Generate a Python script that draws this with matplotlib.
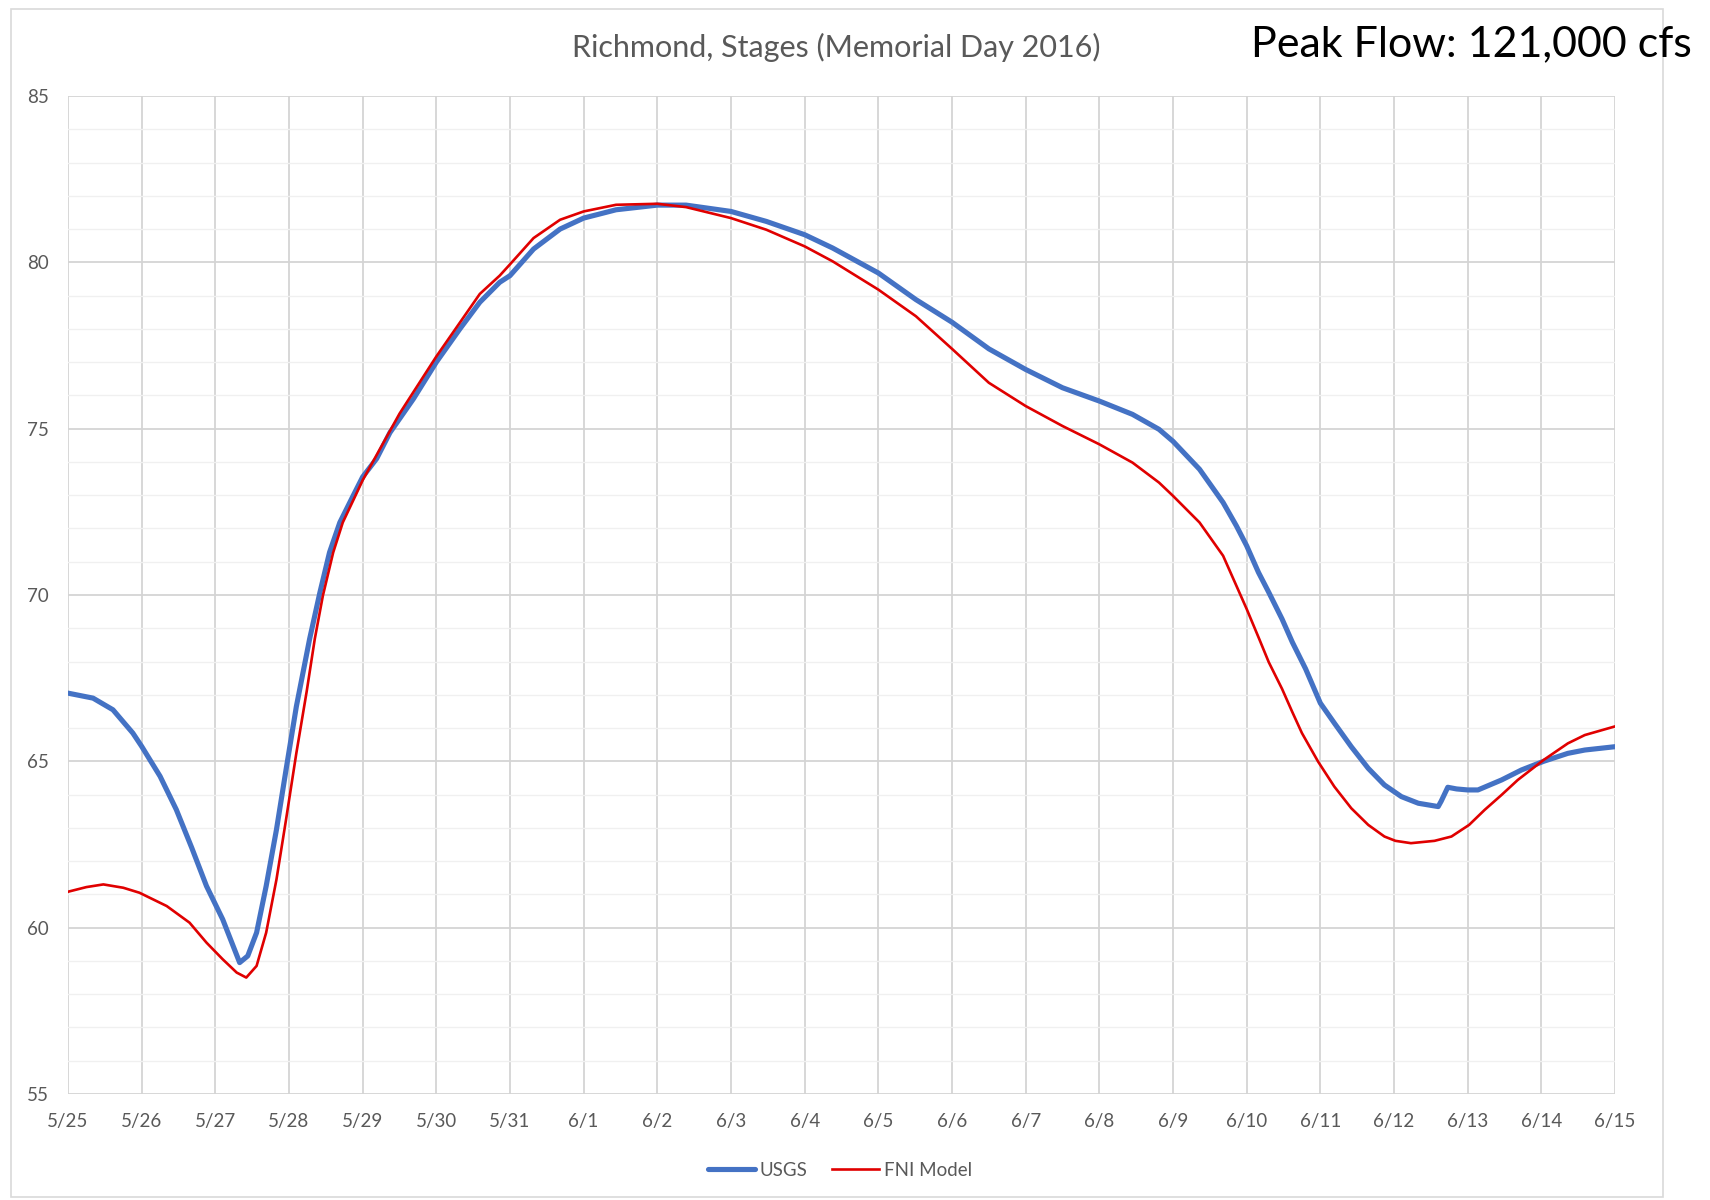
import matplotlib
matplotlib.use("Agg")
import matplotlib.pyplot as plt
from matplotlib.patches import Rectangle
from matplotlib.ticker import MultipleLocator

# ---- data (days after 5/25, stage in ft) ----
tick_labels = ["5/25", "5/26", "5/27", "5/28", "5/29", "5/30", "5/31", "6/1", "6/2", "6/3",
               "6/4", "6/5", "6/6", "6/7", "6/8", "6/9", "6/10", "6/11", "6/12", "6/13",
               "6/14", "6/15"]

usgs_day = [0, 0.34, 0.61, 0.88, 1.0, 1.25, 1.47, 1.68, 1.88, 2.1, 2.33, 2.44, 2.56, 2.69,
            2.83, 2.96, 3.1, 3.28, 3.42, 3.55, 3.69, 3.87, 4.0, 4.19, 4.37, 4.69, 5.0, 5.32,
            5.59, 5.86, 6.0, 6.32, 6.68, 7.0, 7.44, 8.0, 8.39, 9.0, 9.48, 10.0, 10.38, 11.0,
            11.51, 12.0, 12.5, 13.0, 13.5, 14.0, 14.45, 14.81, 15.0, 15.36, 15.68, 15.86,
            16.0, 16.16, 16.3, 16.48, 16.62, 16.8, 17.0, 17.19, 17.42, 17.65, 17.87, 18.1,
            18.33, 18.6, 18.64, 18.73, 18.85, 19.0, 19.14, 19.46, 19.73, 20.03, 20.36, 20.59,
            21.0]
usgs_stage = [67.05, 66.9, 66.55, 65.85, 65.45, 64.55, 63.55, 62.4, 61.25, 60.25, 58.95,
              59.15, 59.85, 61.25, 62.95, 64.75, 66.65, 68.68, 70.08, 71.28, 72.18, 72.98,
              73.55, 74.1, 74.88, 75.9, 77.0, 78.0, 78.8, 79.4, 79.6, 80.4, 81.0, 81.33,
              81.58, 81.72, 81.72, 81.53, 81.23, 80.83, 80.43, 79.68, 78.88, 78.2, 77.4,
              76.78, 76.23, 75.83, 75.43, 74.98, 74.62, 73.78, 72.78, 72.08, 71.48, 70.68,
              70.08, 69.28, 68.58, 67.78, 66.75, 66.15, 65.44, 64.79, 64.29, 63.94, 63.74,
              63.64, 63.8, 64.22, 64.17, 64.14, 64.14, 64.44, 64.74, 65.0, 65.24, 65.34,
              65.44]

fni_day = [0, 0.25, 0.48, 0.75, 0.97, 1.34, 1.65, 1.88, 2.1, 2.29, 2.42, 2.56, 2.69, 2.83,
           2.96, 3.1, 3.24, 3.35, 3.46, 3.6, 3.73, 3.89, 4.0, 4.5, 5.0, 5.59, 5.86, 6.0,
           6.32, 6.68, 7.0, 7.44, 8.0, 8.39, 9.0, 9.48, 10.0, 10.38, 11.0, 11.51, 12.0,
           12.5, 13.0, 13.5, 14.0, 14.45, 14.81, 15.0, 15.36, 15.68, 15.8, 16.0, 16.17,
           16.3, 16.48, 16.62, 16.75, 16.97, 17.19, 17.42, 17.65, 17.87, 18.02, 18.23,
           18.55, 18.78, 19.02, 19.23, 19.46, 19.68, 20.03, 20.36, 20.59, 21.0]
fni_stage = [61.08, 61.22, 61.3, 61.2, 61.05, 60.65, 60.15, 59.55, 59.05, 58.65, 58.5,
             58.85, 59.85, 61.45, 63.25, 65.25, 67.1, 68.68, 69.98, 71.28, 72.18, 72.93,
             73.45, 75.45, 77.17, 79.05, 79.6, 79.94, 80.73, 81.28, 81.53, 81.73, 81.76,
             81.66, 81.33, 80.98, 80.48, 80.03, 79.18, 78.38, 77.4, 76.38, 75.68, 75.08,
             74.53, 73.98, 73.38, 72.98, 72.18, 71.18, 70.58, 69.58, 68.68, 67.98, 67.18,
             66.48, 65.85, 64.99, 64.24, 63.59, 63.09, 62.74, 62.61, 62.54, 62.61, 62.74,
             63.09, 63.54, 63.99, 64.44, 65.04, 65.54, 65.79, 66.05]

title = "Richmond, Stages (Memorial Day 2016)"
note = "Peak Flow: 121,000 cfs"

plt.rcParams['font.family'] = ['Lato', 'DejaVu Sans']

fig = plt.figure(figsize=(17.1, 12), dpi=100)
ax = fig.add_axes([68 / 1710, 106 / 1200, (1615 - 68) / 1710, (1094 - 96) / 1200])

ax.plot(usgs_day, usgs_stage, color="#4472C4", lw=3.7, label="USGS", solid_capstyle="round",
        solid_joinstyle="round", zorder=3)
ax.plot(fni_day, fni_stage, color="#E00000", lw=1.9, label="FNI Model",
        solid_joinstyle="round", zorder=4)

ax.set_xlim(0, 21)
ax.set_ylim(55, 85)
ax.set_xticks(range(len(tick_labels)))
ax.set_xticklabels(tick_labels)
ax.set_yticks([55, 60, 65, 70, 75, 80, 85])
ax.yaxis.set_minor_locator(MultipleLocator(1))
ax.tick_params(axis="both", which="both", length=0, labelsize=13.5, colors="#595959")
ax.tick_params(axis="x", pad=14)
ax.tick_params(axis="y", pad=14)
ax.grid(True, which="major", color="#D4D4D4", lw=1.3)
ax.grid(True, which="minor", axis="y", color="#F0F0F0", lw=1.0)
ax.set_axisbelow(True)
for s in ax.spines.values():
    s.set_visible(False)

fig.text(836 / 1710, 1 - 47 / 1200, title, ha="center", va="center", fontsize=22,
         color="#595959")
fig.text(1251 / 1710, 1 - 44 / 1200, note, ha="left", va="center", fontsize=31,
         color="black")

leg = fig.legend(loc="center", bbox_to_anchor=(840 / 1710, 1 - 1170 / 1200), ncol=2,
                 frameon=False, fontsize=13.5, handlelength=2.5, columnspacing=1.3,
                 handletextpad=0.25)
for t in leg.get_texts():
    t.set_color("#595959")

fig.patches.append(Rectangle((11 / 1710, 3 / 1200), (1663 - 11) / 1710, (1191 - 3) / 1200,
                             transform=fig.transFigure, fill=False, edgecolor="#D9D9D9",
                             lw=1.2))

fig.savefig("out.png", dpi=100, facecolor="white")
